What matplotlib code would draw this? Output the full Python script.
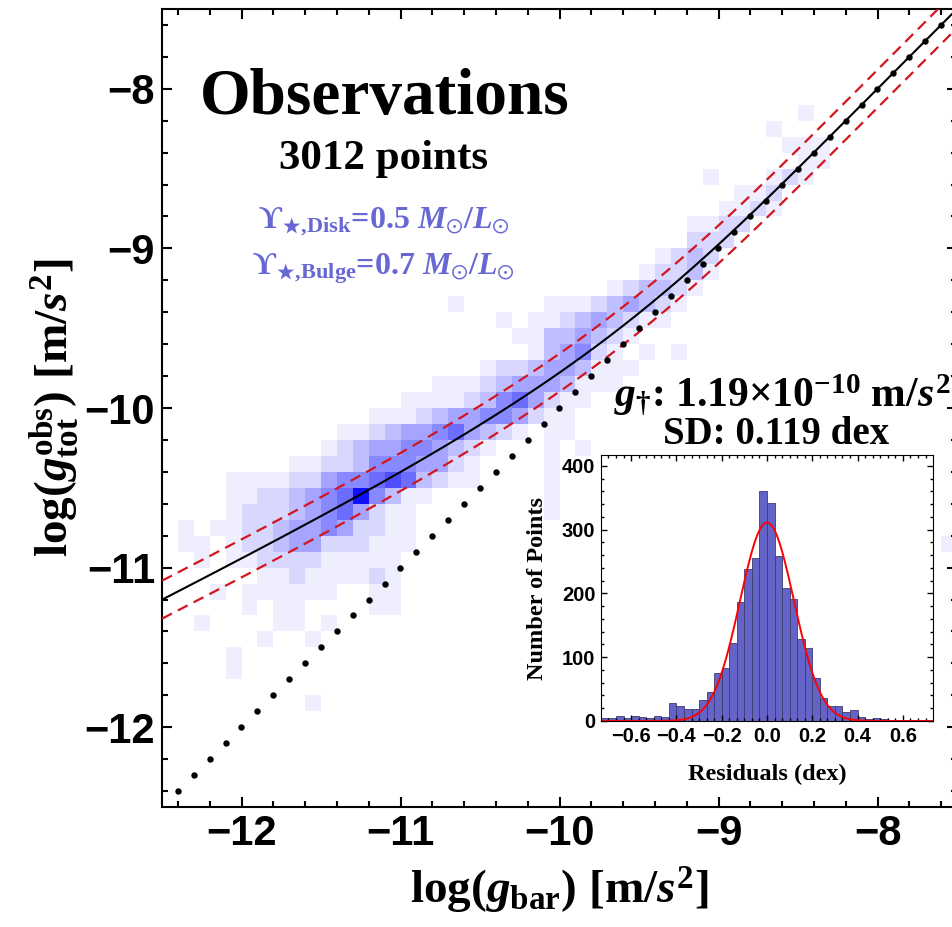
import numpy as np
import matplotlib
matplotlib.use("Agg")
import matplotlib.pyplot as plt
from matplotlib.colors import LinearSegmentedColormap, PowerNorm
from matplotlib.ticker import MultipleLocator

plt.rcParams["mathtext.fontset"] = "custom"
plt.rcParams["mathtext.rm"] = "Liberation Serif:bold"
plt.rcParams["mathtext.it"] = "Liberation Serif:italic:bold"
plt.rcParams["mathtext.bf"] = "Liberation Serif:bold"
plt.rcParams["mathtext.fallback"] = "stix"

# fit values quoted on the figure
g_dagger = 1.19e-10
sd_dex = 0.119
n_points = 3012

# density of points, shade level 0-9 per 0.1 dex cell
# rows start at log(g_obs) = -8.1 and go down, columns start at log(g_bar) = -12.5
density_top = -8.1
density_left = -12.5
density_cell = 0.1
density_rows = [
    ".......... .......... .......... .......... 1.........",  # -8.1
    ".......... .......... .......... ........1. ..........",
    ".......... .......... .......... .........1 11........",
    ".......... .......... .......... .......... 11........",
    ".......... .......... .......... ....1...12 1.........",
    ".......... .......... .......... ......112. ..........",  # -8.6
    ".......... .......... .......... .....1121. ..........",
    ".......... .......... .......... ...1122... ..........",
    ".......... .......... .......... ...222.... ..........",
    ".......... .......... .......... .1232..... ..........",
    ".......... .......... .......... 12231..... ..........",  # -9.1
    ".......... .......... ........12 3321...... ..........",
    ".......... ........1. ....111234 321....... ..........",
    ".......... .......... .1.1123432 11........ ..........",
    ".......... .......... ..11334321 .......... ..........",
    ".......... .......... ...134521. 1.1....... ..........",  # -9.6
    ".......... .......... 1223443111 .......... ..........",
    ".......... .......111 234443111. .......... ..........",
    ".......... .....11112 3564211... .......... ..........",
    ".......... ...1112344 554211.... .......... ..........",
    ".......... .112344564 321.11.... .......... ..........",  # -10.1
    ".......... 1234455432 1...1.1... .......... ..........",
    "........11 2235554421 ....1..... .......... ..........",
    "....111122 4556763211 ....1..... .......... ..........",
    "....112234 5695311... ....1..... .......... ..........",
    "....122234 564211.... ....1..... .......... ..........",  # -10.6
    ".1.1122344 542211.... .......... .......... ..........",
    ".11.122344 222111.... .......... .......... .........1",
    "..1.112222 11111..... .......... .......... ..........",
    "......1121 11121..... .......... .......... ..........",
    "...1.11111 1..11..... .......... .......... ..........",  # -11.1
    ".....1.11. ...11..... .......... .......... ..........",
    "..1....11. 1......... .......... .......... ..........",
    "......1..1 .......... .......... .......... ..........",
    "....1..... .......... .......... .......... ..........",
    "....1..... .......... .......... .......... ..........",  # -11.6
    ".......... .......... .......... .......... ..........",
    ".........1 .......... .......... .......... ..........",
]

# histogram of residuals, bins of 1/30 dex starting at -22/30
resid_start = -22 / 30
resid_bin = 1 / 30
resid_counts = [4, 5, 8, 5, 8, 7, 5, 8, 7, 28, 24, 19, 19, 33, 46, 76, 83,
                123, 186, 239, 255, 360, 341, 258, 208, 192, 128, 115, 68, 36,
                24, 24, 14, 18, 7, 3, 4, 3, 2, 1, 1, 1, 1, 0]
gauss_peak = 311

main_ticks = [-12, -11, -10, -9, -8]
inset_xticks = [-0.6, -0.4, -0.2, 0.0, 0.2, 0.4, 0.6]
inset_yticks = [0, 100, 200, 300, 400]

UPSILON = "\u03d2"


def tick_text(v, fmt):
    s = fmt.format(v)
    return s.replace("-", "\u2212")


fig = plt.figure(figsize=(9.52, 9.27), dpi=100)
ax = fig.add_axes([162 / 952, 120 / 927, 795 / 952, 798 / 927])
ax.set_xlim(-12.5, -7.5)
ax.set_ylim(-12.5, -7.5)

grid = np.array([[0 if c == "." else int(c) for c in r.replace(" ", "")]
                 for r in density_rows], dtype=float)
nr, nc = grid.shape
xe = density_left + density_cell * np.arange(nc + 1)
ye = density_top - density_cell * np.arange(nr + 1)
cmap = LinearSegmentedColormap.from_list("wb", ["#ffffff", "#0000ff"])
ax.pcolormesh(xe, ye, np.ma.masked_equal(grid, 0), cmap=cmap,
              norm=PowerNorm(1.2, vmin=0, vmax=9.5), zorder=1)

# RAR fit and scatter band
xg = np.linspace(-12.5, -7.5, 500)
gb = 10 ** xg
yg = np.log10(gb / (1 - np.exp(-np.sqrt(gb / g_dagger))))
ax.plot(xg, yg, color="black", lw=1.5, zorder=3)
for s in (sd_dex, -sd_dex):
    ax.plot(xg, yg + s, color="#d3151c", lw=1.6, dashes=(5, 3), zorder=3)

# one-to-one line
one = np.arange(-12.4, -7.45, 0.1)
ax.plot(one, one, "o", ms=3.6, color="black", zorder=4)

ax.set_xticks(main_ticks, labels=[tick_text(v, "{:d}") for v in main_ticks])
ax.set_yticks(main_ticks, labels=[tick_text(v, "{:d}") for v in main_ticks])
ax.xaxis.set_minor_locator(MultipleLocator(0.2))
ax.yaxis.set_minor_locator(MultipleLocator(0.2))
ax.tick_params(which="both", direction="in", top=True, right=True, width=1.5)
ax.tick_params(which="major", length=7, pad=5)
ax.tick_params(which="minor", length=4)
for lab in ax.get_xticklabels() + ax.get_yticklabels():
    lab.set_family("Liberation Sans")
    lab.set_fontweight("bold")
    lab.set_fontsize(30)
for sp in ax.spines.values():
    sp.set_linewidth(1.5)

ax.set_xlabel(r"$\mathrm{log(}g_{\mathrm{bar}}\mathrm{)\ [m/}s^{2}\mathrm{]}$",
              fontsize=34, labelpad=8)
ax.set_ylabel(r"$\mathrm{log(}g_{\mathrm{tot}}^{\mathrm{obs}}\mathrm{)\ [m/}s^{2}\mathrm{]}$",
              fontsize=34)
ax.yaxis.set_label_coords(-0.1, 0.5)

serif = "Liberation Serif"
ax.text(-11.10, -8.156, "Observations", family=serif, weight="bold",
        fontsize=47, ha="center", va="baseline")
ax.text(-11.107, -8.5, f"{n_points} points", family=serif, weight="bold",
        fontsize=31, ha="center", va="baseline")
blue_txt = "#6868d4"
sun_ratio = r" $M_{\odot}/L_{\odot}$"
disk_txt = "$\\mathrm{" + UPSILON + r"}_{\bigstar{,}\mathrm{Disk}}$" + "=0.5" + sun_ratio
bulge_txt = "$\\mathrm{" + UPSILON + r"}_{\bigstar{,}\mathrm{Bulge}}$" + "=0.7" + sun_ratio
ax.text(-11.107, -8.875, disk_txt, color=blue_txt, fontsize=23,
        family=serif, weight="bold", ha="center", va="baseline")
ax.text(-11.107, -9.1625, bulge_txt, color=blue_txt, fontsize=23,
        family=serif, weight="bold", ha="center", va="baseline")
ax.text(-8.60, -9.99, r"$g_{\dagger}$: 1.19×10$^{-10}$ m/$s^{2}$",
        family=serif, weight="bold", fontsize=30, ha="center",
        va="baseline", zorder=5)
ax.text(-8.64, -10.225, f"SD: {sd_dex} dex", family=serif, weight="bold",
        fontsize=28, ha="center", va="baseline", zorder=5)

# inset: residual histogram
ins = fig.add_axes([601 / 952, (927 - 721) / 927, 332 / 952, 266 / 927])
ins.set_facecolor("white")
left = resid_start + resid_bin * np.arange(len(resid_counts))
ins.bar(left, resid_counts, width=resid_bin, align="edge", color="#6464c8",
        edgecolor="#3c3c6e", lw=0.6)
xs = np.linspace(-0.733, 0.733, 400)
ins.plot(xs, gauss_peak * np.exp(-0.5 * (xs / sd_dex) ** 2), color="red", lw=1.4)
ins.set_xlim(-0.733, 0.733)
ins.set_ylim(0, 417)
ins.set_xticks(inset_xticks, labels=[tick_text(v, "{:.1f}") for v in inset_xticks])
ins.set_yticks(inset_yticks, labels=[str(v) for v in inset_yticks])
ins.xaxis.set_minor_locator(MultipleLocator(0.2 / 6))
ins.yaxis.set_minor_locator(MultipleLocator(20))
ins.tick_params(which="both", direction="in", top=True, right=True, width=1)
ins.tick_params(which="major", length=4, pad=4)
ins.tick_params(which="minor", length=2)
for lab in ins.get_xticklabels() + ins.get_yticklabels():
    lab.set_family("Liberation Sans")
    lab.set_fontweight("bold")
    lab.set_fontsize(14.5)
ins.set_xlabel("Residuals (dex)", family=serif, weight="bold", fontsize=17.5)
ins.set_ylabel("Number of Points", family=serif, weight="bold", fontsize=17.5)
ins.xaxis.set_label_coords(0.5, -0.16)
ins.yaxis.set_label_coords(-0.16, 0.5)

fig.savefig("out.png", dpi=100)
